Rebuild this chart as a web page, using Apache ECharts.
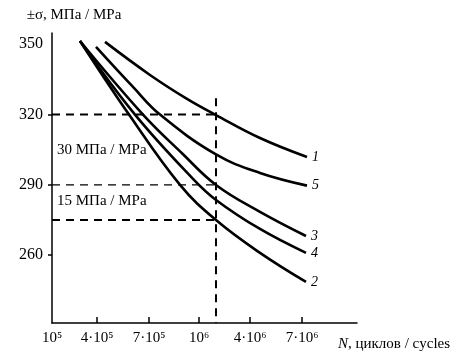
<!DOCTYPE html>
<html>
<head>
<meta charset="utf-8">
<script src="https://cdn.jsdelivr.net/npm/echarts@6/dist/echarts.min.js"></script>
<style>
  html, body { margin: 0; padding: 0; background: #fff; }
  #chart { width: 462px; height: 358px; }
</style>
</head>
<body>
<div id="chart"></div>
<script>
// tick positions on the (non-uniform) N axis and their labels
var xTickPos = [0, 0.9, 1.94, 2.94, 3.96, 5];
var xTickLabels = ['10⁵', '4·10⁵', '7·10⁵', '10⁶', '4·10⁶', '7·10⁶'];
var yTicks = [260, 290, 320];
var yLabels = [260, 290, 320, 350];

// curves: [position on N axis, sigma]
var curve1 = [[1.06, 351.0], [1.96, 336.9], [2.70, 326.7], [3.28, 319.8], [4.16, 310.0], [5.10, 301.9]];
var curve5 = [[0.88, 348.9], [1.62, 331.8], [2.16, 320], [3.28, 303.0], [4.16, 295.1], [5.10, 289.7]];
var curve3 = [[0.56, 351.4], [1.82, 320], [2.60, 303.5], [3.28, 290], [4.16, 278.5], [5.08, 268.2]];
var curve4 = [[0.56, 351.4], [1.66, 320], [2.82, 292.6], [3.28, 283.6], [4.16, 271.2], [5.08, 261.0]];
var curve2 = [[0.56, 351.4], [1.54, 320], [2.56, 290], [3.28, 275], [4.16, 261.0], [5.08, 248.6]];

// reference lines
var nMark = 3.28;
var levels = [320, 290, 275];
var vTop = 327;

var yMin = 231.1, yMax = 354.8;
var serif = 'Liberation Serif';

var chart = echarts.init(document.getElementById('chart'));

function curve(name, data) {
  return {
    name: name,
    type: 'line',
    data: data,
    smooth: 0.4,
    symbol: 'none',
    lineStyle: { color: '#000', width: 2.6 },
    endLabel: {
      show: true,
      formatter: '{a}',
      distance: 5,
      color: '#000',
      fontFamily: serif,
      fontStyle: 'italic',
      fontSize: 14
    },
    z: 3
  };
}

function dashed(data, w) {
  return {
    type: 'line',
    data: data,
    symbol: 'none',
    silent: true,
    lineStyle: { color: '#000', width: w, type: [8, 6] },
    z: 2
  };
}

var option = {
  animation: false,
  backgroundColor: '#fff',
  grid: { left: 52, right: 105, top: 33, bottom: 35 },
  xAxis: {
    type: 'value',
    min: 0,
    max: 6.1,
    name: '{i|N}, циклов / cycles',
    nameLocation: 'end',
    nameGap: -19,
    nameTextStyle: {
      color: '#000', fontFamily: serif, fontSize: 15,
      align: 'left', verticalAlign: 'top', padding: [14, 0, 0, 0],
      rich: { i: { fontStyle: 'italic', fontFamily: serif, fontSize: 15, color: '#000' } }
    },
    splitLine: { show: false },
    axisLine: { lineStyle: { color: '#000', width: 1.5 } },
    axisTick: {
      inside: true, length: 6,
      customValues: xTickPos.slice(1),
      lineStyle: { color: '#000', width: 1.5 }
    },
    axisLabel: {
      customValues: xTickPos,
      formatter: function (v) {
        for (var i = 0; i < xTickPos.length; i++) {
          if (Math.abs(xTickPos[i] - v) < 1e-6) return xTickLabels[i];
        }
        return '';
      },
      color: '#000', fontFamily: serif, fontSize: 15, margin: 8
    }
  },
  yAxis: {
    type: 'value',
    min: yMin,
    max: yMax,
    name: '±σ, МПа / МРа',
    nameLocation: 'end',
    nameGap: 10,
    nameTextStyle: {
      color: '#000', fontFamily: serif, fontSize: 15,
      padding: [0, 0, 0, 44]
    },
    splitLine: { show: false },
    axisLine: { show: true, lineStyle: { color: '#000', width: 1.5 } },
    axisTick: {
      show: true, length: 4,
      customValues: yTicks,
      lineStyle: { color: '#000', width: 1.5 }
    },
    axisLabel: {
      customValues: yLabels,
      color: '#000', fontFamily: serif, fontSize: 16, margin: 9
    }
  },
  graphic: [
    { type: 'text', left: 57, top: 143, style: { text: '30 МПа / МРа', fill: '#000', font: '15px "Liberation Serif"' } },
    { type: 'text', left: 57, top: 194, style: { text: '15 МПа / МРа', fill: '#000', font: '15px "Liberation Serif"' } }
  ],
  series: [
    dashed([[0, levels[0]], [nMark, levels[0]]], 2),
    dashed([[0, levels[1]], [nMark, levels[1]]], 1.2),
    dashed([[0, levels[2]], [nMark, levels[2]]], 2),
    dashed([[nMark, vTop], [nMark, yMin]], 2),
    curve('1', curve1),
    curve('5', curve5),
    curve('3', curve3),
    curve('4', curve4),
    curve('2', curve2)
  ]
};

chart.setOption(option);
window.addEventListener('resize', chart.resize);
</script>
</body>
</html>
